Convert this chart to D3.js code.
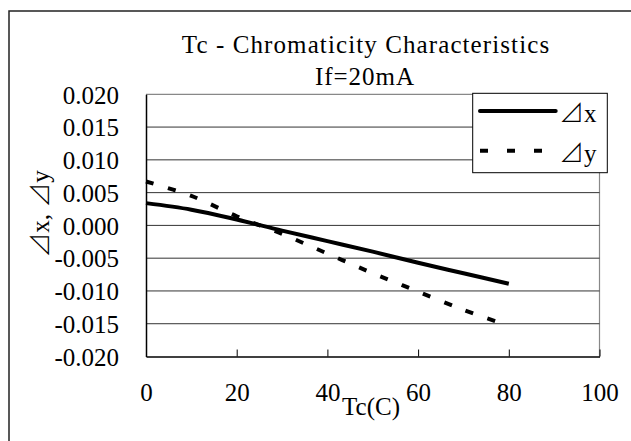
<!DOCTYPE html>
<html>
<head>
<meta charset="utf-8">
<script src="https://cdn.jsdelivr.net/npm/d3@7"></script>
<style>
  body { margin: 0; background: #fff; }
  text { font-family: "Liberation Serif", "DejaVu Serif", serif; fill: #000; }
  .tri { font-family: "Noto Sans CJK JP", "Noto Sans CJK SC", sans-serif; font-weight: 300; }
</style>
</head>
<body>
<div id="chart-area"></div>
<script>
// data
var tempX = [0, 10, 20, 30, 40, 50, 60, 70, 80];
var deltaX = [0.0034, 0.0024, 0.0009, -0.0008, -0.0024, -0.0040, -0.0057, -0.0073, -0.0089];
var tempY = [0, 10, 20, 30, 40, 50, 60, 70, 77];
var deltaY = [0.0067, 0.0045, 0.0014, -0.0013, -0.0043, -0.0073, -0.0101, -0.0129, -0.0146];
var xTicks = [0, 20, 40, 60, 80, 100];
var yTicks = [0.020, 0.015, 0.010, 0.005, 0.000, -0.005, -0.010, -0.015, -0.020];
var seriesNames = ["x", "y"];   // each drawn after a ⊿
var TRI = "\u22BF";

var width = 631;
var height = 441;
var plot = {left: 146, right: 599.5, top: 94.3, bottom: 356.5};

var svg = d3.select("#chart-area").append("svg")
    .attr("width", width)
    .attr("height", height);

// outer chart border (right/bottom run off the picture)
svg.append("rect")
    .attr("x", 9).attr("y", 11)
    .attr("width", 700).attr("height", 500)
    .attr("fill", "none")
    .attr("stroke", "#222")
    .attr("stroke-width", 1.5);

var x = d3.scaleLinear()
    .domain([0, 100])
    .range([plot.left, plot.right]);

var y = d3.scaleLinear()
    .domain([-0.02, 0.02])
    .range([plot.bottom, plot.top]);

// plot frame, top and right in grey
svg.append("path")
    .attr("d", "M" + plot.left + "," + plot.top + "H" + plot.right + "V" + plot.bottom)
    .attr("fill", "none")
    .attr("stroke", "#888")
    .attr("stroke-width", 1.2);

// grid lines
svg.append("g").selectAll("line")
    .data(yTicks.filter(d => d > -0.02 && d < 0.02))
    .enter().append("line")
        .attr("x1", plot.left)
        .attr("x2", plot.right)
        .attr("y1", d => y(d))
        .attr("y2", d => y(d))
        .attr("stroke", "#333")
        .attr("stroke-width", 1);

// axes
var xAxis = svg.append("g")
    .attr("transform", "translate(0," + plot.bottom + ")")
    .call(d3.axisBottom(x).tickValues(xTicks).tickSizeInner(-7).tickSizeOuter(0).tickFormat(d3.format("d")));
xAxis.select(".domain").attr("stroke", "#000").attr("stroke-width", 1.5);
xAxis.selectAll(".tick line").attr("stroke", "#000");
xAxis.selectAll(".tick text")
    .attr("y", 44)
    .attr("dy", 0)
    .style("font-size", "25px")
    .style("font-family", "Liberation Serif, serif");

var yAxis = svg.append("g")
    .attr("transform", "translate(" + plot.left + ",0)")
    .call(d3.axisLeft(y).tickValues(yTicks).tickSize(0).tickPadding(27).tickFormat(d3.format(".3f")));
yAxis.select(".domain").attr("stroke", "#000").attr("stroke-width", 1.5);
yAxis.selectAll(".tick text")
    .attr("dy", "0.35em")
    .text(d => (d < 0 ? "-" : "") + d3.format(".3f")(Math.abs(d)))
    .style("font-size", "25px")
    .style("font-family", "Liberation Serif, serif");

// series
var line = d3.line()
    .x(d => x(d[0]))
    .y(d => y(d[1]))
    .curve(d3.curveCatmullRom);

svg.append("path")
    .datum(d3.zip(tempX, deltaX))
    .attr("d", line)
    .attr("fill", "none")
    .attr("stroke", "#000")
    .attr("stroke-width", 4);

svg.append("path")
    .datum(d3.zip(tempY, deltaY))
    .attr("d", line)
    .attr("fill", "none")
    .attr("stroke", "#000")
    .attr("stroke-width", 4)
    .attr("stroke-dasharray", "8,15");

// titles
svg.append("text")
    .attr("x", 366).attr("y", 53)
    .attr("text-anchor", "middle")
    .style("font-size", "25px")
    .style("letter-spacing", "1.1px")
    .text("Tc - Chromaticity Characteristics");

svg.append("text")
    .attr("x", 365).attr("y", 85)
    .attr("text-anchor", "middle")
    .style("font-size", "25px")
    .style("letter-spacing", "1px")
    .text("If=20mA");

svg.append("text")
    .attr("x", 371).attr("y", 415)
    .attr("text-anchor", "middle")
    .style("font-size", "25px")
    .text("Tc(C)");

// y axis title: ⊿x, ⊿y
var yTitle = svg.append("text")
    .attr("transform", "translate(49,214) rotate(-90)")
    .attr("text-anchor", "middle")
    .style("font-size", "25px");
seriesNames.forEach(function(name, i) {
    yTitle.append("tspan").attr("class", "tri").text(TRI);
    yTitle.append("tspan").text(name + (i < seriesNames.length - 1 ? ", " : ""));
});

// legend
var legend = svg.append("g");
legend.append("rect")
    .attr("x", 472.7).attr("y", 93.3)
    .attr("width", 134.6).attr("height", 79.4)
    .attr("fill", "#fff")
    .attr("stroke", "#000")
    .attr("stroke-width", 1);

var legendRows = legend.selectAll(".row")
    .data(seriesNames)
    .enter().append("g")
        .attr("class", "row")
        .attr("transform", (d, i) => "translate(0," + (111 + i * 39.7) + ")");

legendRows.append("line")
    .attr("x1", 480).attr("x2", (d, i) => i === 0 ? 555.7 : 542)
    .attr("stroke", "#000")
    .attr("stroke-width", 4)
    .attr("stroke-linecap", (d, i) => i === 0 ? "round" : "butt")
    .attr("stroke-dasharray", (d, i) => i === 0 ? null : "8,19");

var legendText = legendRows.append("text")
    .attr("x", 559)
    .attr("y", 11)
    .style("font-size", "25px");
legendText.append("tspan").attr("class", "tri").text(TRI);
legendText.append("tspan").text(d => d);
</script>
</body>
</html>
